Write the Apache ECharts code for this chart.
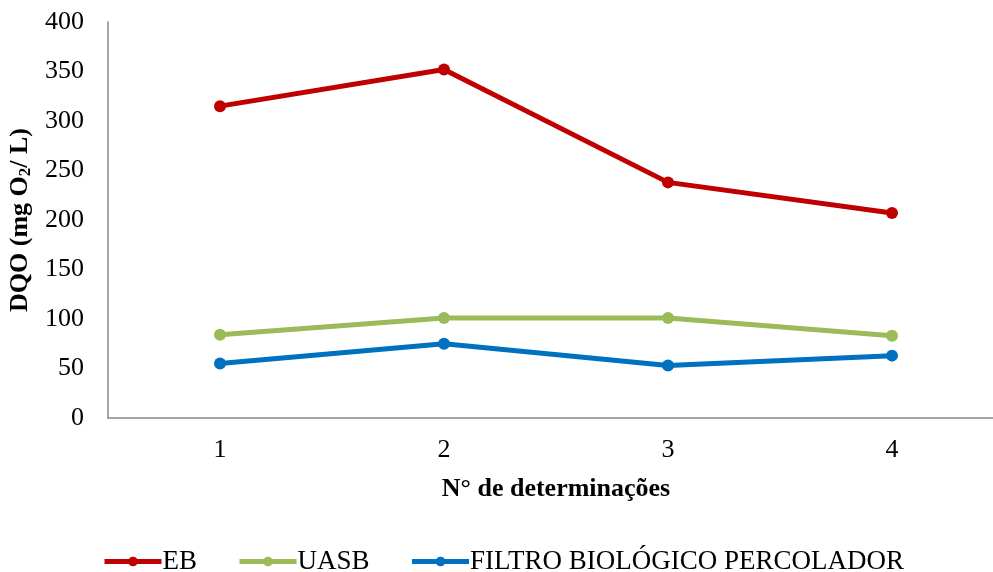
<!DOCTYPE html>
<html><head><meta charset="utf-8">
<script src="https://cdn.jsdelivr.net/npm/echarts@6/dist/echarts.min.js"></script>
<style>html,body{margin:0;padding:0;background:#fff}#c{width:993px;height:572px}</style>
</head><body><div id="c"></div>
<script>
const categories = ['1', '2', '3', '4'];
const seriesNames = ['EB', 'UASB', 'FILTRO BIOLÓGICO PERCOLADOR'];
const ebValues = [315, 352, 238, 207];
const uasbValues = [84, 101, 101, 83];
const filtroValues = [55, 75, 53, 63];
const yTicks = [0, 50, 100, 150, 200, 250, 300, 350, 400];
const colors = ['#C00000', '#9BBB59', '#0070C0'];

const font = 'Liberation Serif, Times New Roman, serif';
const chart = echarts.init(document.getElementById('c'), null, {renderer: 'canvas'});
function mk(name, data, color) {
  return {
    name: name, type: 'line', data: data,
    symbol: 'circle', symbolSize: 12,
    lineStyle: {color: color, width: 5},
    itemStyle: {color: color},
    animation: false
  };
}
chart.setOption({
  animation: false,
  textStyle: {fontFamily: font},
  grid: {left: 108, top: 22, width: 896, height: 396, containLabel: false, outerBoundsMode: 'none'},
  xAxis: {
    type: 'category', data: categories, boundaryGap: true,
    axisLine: {lineStyle: {color: '#868686', width: 1.5}},
    axisTick: {show: false},
    axisLabel: {color: '#000', fontSize: 26, fontFamily: font, margin: 19},
    name: 'N° de determinações', nameLocation: 'middle', nameGap: 58,
    nameTextStyle: {color: '#000', fontSize: 26, fontWeight: 'bold', fontFamily: font, verticalAlign: 'top'}
  },
  yAxis: {
    type: 'value', min: yTicks[0], max: yTicks[yTicks.length - 1], interval: 50,
    axisLine: {show: true, lineStyle: {color: '#868686', width: 1.5}},
    axisTick: {show: false},
    splitLine: {show: false},
    axisLabel: {color: '#000', fontSize: 26, fontFamily: font, margin: 24},
    name: 'DQO (mg O{sub|2}/ L)', nameLocation: 'middle', nameGap: 70, nameRotate: 90,
    nameTextStyle: {
      color: '#000', fontSize: 26, fontWeight: 'bold', fontFamily: font,
      rich: {sub: {fontSize: 17, fontWeight: 'bold', fontFamily: font, color: '#000', padding: [10, 0, 0, 0]}}
    }
  },
  legend: {
    top: 543, left: 97, itemWidth: 57, itemHeight: 12, itemGap: 40,
    lineStyle: {width: 5},
    textStyle: {color: '#000', fontSize: 27, fontFamily: font, padding: [0, 0, 0, -4]},
    data: seriesNames
  },
  series: [
    mk(seriesNames[0], ebValues, colors[0]),
    mk(seriesNames[1], uasbValues, colors[1]),
    mk(seriesNames[2], filtroValues, colors[2])
  ]
});
</script></body></html>
